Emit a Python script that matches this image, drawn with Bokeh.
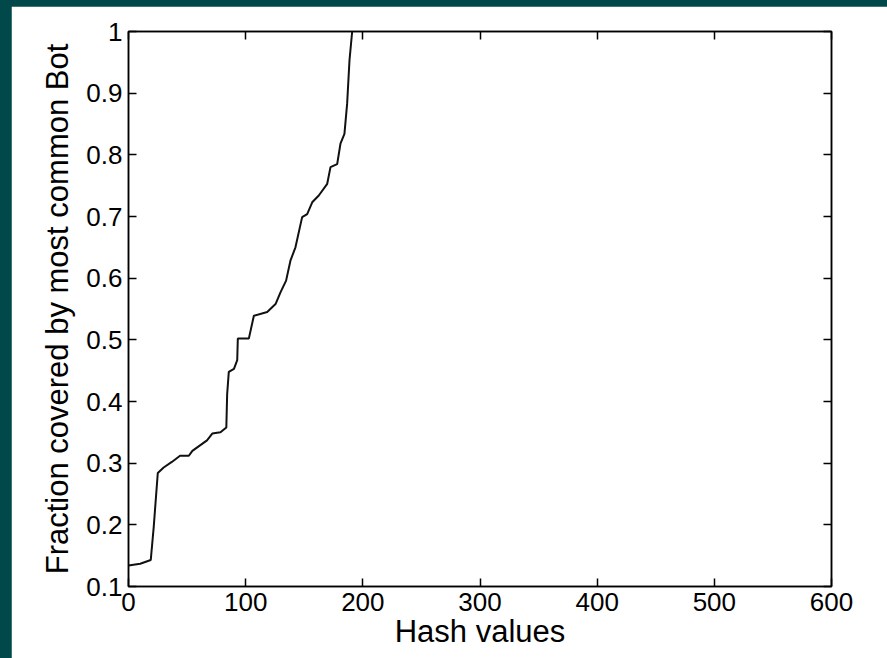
from bokeh.plotting import figure
from bokeh.models import Range1d, FixedTicker, LinearAxis
from bokeh.layouts import column
from bokeh.embed import file_html
from bokeh.resources import INLINE

# ---- data ----
hash_values = [0, 10, 19, 21.5, 25, 30, 37, 44, 51.5, 54.5, 67, 71.5, 78.5, 83.5,
               84.2, 85.6, 90, 92.8, 93.3, 102.7, 107, 118.4, 125.5, 129.7, 134.5,
               138.3, 142.5, 148.2, 152.5, 156.8, 162.4, 169.6, 172.4, 178.1, 180.9,
               184.3, 186.6, 188.6, 190.9]
fraction = [0.134, 0.137, 0.143, 0.196, 0.284, 0.293, 0.302, 0.312, 0.312, 0.320,
            0.337, 0.348, 0.350, 0.358, 0.412, 0.448, 0.453, 0.467, 0.502, 0.502,
            0.539, 0.545, 0.558, 0.577, 0.596, 0.629, 0.650, 0.699, 0.704, 0.723,
            0.734, 0.753, 0.780, 0.785, 0.818, 0.834, 0.883, 0.953, 1.0]

x_ticks = [0, 100, 200, 300, 400, 500, 600]
y_ticks = [0.1, 0.2, 0.3, 0.4, 0.5, 0.6, 0.7, 0.8, 0.9, 1.0]
y_tick_labels = ["0.1", "0.2", "0.3", "0.4", "0.5", "0.6", "0.7", "0.8", "0.9", "1"]

x_label = "Hash values"
y_label = "Fraction covered by most common Bot"

TEAL = "#01484a"
FONT = "Liberation Sans"
TICK_SIZE = "26px"
LABEL_SIZE = "31px"

p = figure(width=876, height=652, output_backend="svg", toolbar_location=None,
           x_range=Range1d(0, 600), y_range=Range1d(0.1, 1.0),
           min_border_left=117, min_border_top=25, min_border_right=56,
           min_border_bottom=72)
p.margin = (6, 0, 0, 11)
p.background_fill_color = "white"
p.border_fill_color = "white"
p.outline_line_color = "black"
p.outline_line_width = 1.5
p.xgrid.visible = False
p.ygrid.visible = False

p.line(hash_values, fraction, line_color="#111111", line_width=2)

def style_axis(ax, ticks, show_labels):
    ax.ticker = FixedTicker(ticks=ticks)
    ax.major_tick_in = 8
    ax.major_tick_out = 0
    ax.minor_tick_line_color = None
    ax.axis_line_color = "black"
    ax.axis_line_width = 1.5
    ax.major_tick_line_color = "black"
    ax.major_tick_line_width = 1.5
    ax.major_label_text_font = FONT
    ax.major_label_text_color = "black"
    ax.major_label_text_font_size = TICK_SIZE
    if show_labels:
        ax.axis_label_text_font = FONT
        ax.axis_label_text_font_size = LABEL_SIZE
        ax.axis_label_text_font_style = "normal"
        ax.axis_label_text_color = "black"
    else:
        ax.major_label_overrides = {t: "" for t in ticks}
        ax.major_label_standoff = 0

xa = p.xaxis[0]
ya = p.yaxis[0]
style_axis(xa, x_ticks, True)
style_axis(ya, y_ticks, True)
xa.axis_label = x_label
ya.axis_label = y_label
xa.major_label_standoff = 6
xa.axis_label_standoff = 0
ya.major_label_standoff = 6
ya.axis_label_standoff = 8
ya.major_label_overrides = {t: s for t, s in zip(y_ticks, y_tick_labels)}

top_ax = LinearAxis()
right_ax = LinearAxis()
style_axis(top_ax, x_ticks, False)
style_axis(right_ax, y_ticks, False)
p.add_layout(top_ax, "above")
p.add_layout(right_ax, "right")

layout = column(p, width=887, height=658, styles={"background-color": TEAL})

open("out.html", "w").write(file_html(layout, INLINE))
